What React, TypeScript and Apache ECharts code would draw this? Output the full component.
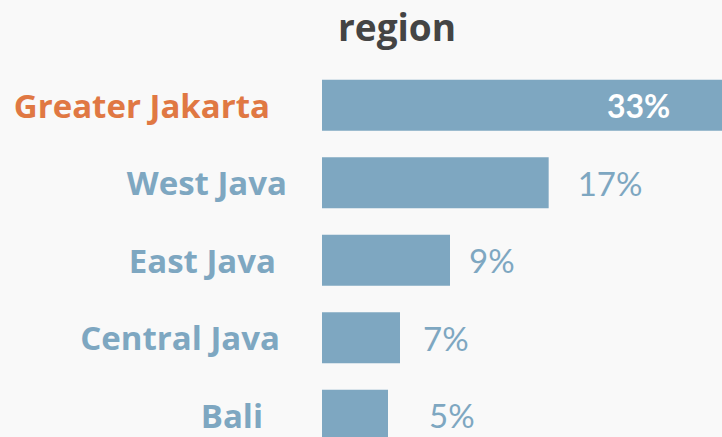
import React, { useEffect, useRef } from "react";
import * as echarts from "echarts";

const categories = ["Greater Jakarta", "West Java", "East Java", "Central Java", "Bali"];
const values = [33, 17, 9.6, 5.85, 4.95];
const valueLabels = ["33%", "17%", "9%", "7%", "5%"];
const highlighted = "Greater Jakarta";

const BLUE = "#7ea7c1";
const ORANGE = "#e07843";
const FONT = "'Open Sans', Lato, sans-serif";
const VFONT = "Lato, sans-serif";

// per-label nudges (visual only)
const catPad = [17, 0, 11, 7, 24];
const valDist = [285, 29, 19, 23, 41];

export default function App() {
  const ref = useRef<HTMLDivElement>(null);
  useEffect(() => {
    if (!ref.current) return;
    const chart = echarts.init(ref.current, null, { renderer: "svg" });
    const rich: Record<string, any> = {};
    categories.forEach((c, i) => {
      rich["r" + i] = {
        color: c === highlighted ? ORANGE : BLUE,
        fontFamily: FONT,
        fontWeight: "bold",
        fontSize: 33,
        padding: [0, catPad[i], 0, 0],
      };
    });
    chart.setOption({
      animation: false,
      backgroundColor: "#f9f9f9",
      title: {
        text: "region",
        left: 338,
        top: 6,
        padding: 0,
        textStyle: { fontFamily: FONT, fontWeight: "bold", fontSize: 37, color: "#444444", lineHeight: 40 },
      },
      grid: { left: 322, right: 0, top: 66.5, bottom: 6, containLabel: false },
      xAxis: {
        type: "value",
        min: 0,
        max: 30,
        show: false,
      },
      yAxis: {
        type: "category",
        data: categories,
        inverse: true,
        axisLine: { show: false },
        axisTick: { show: false },
        splitLine: { show: false },
        axisLabel: {
          margin: 35,
          formatter: (v: string) => {
            const i = categories.indexOf(v);
            return "{r" + i + "|" + v + "}";
          },
          rich,
        },
      },
      series: [
        {
          type: "bar",
          barWidth: 51,
          itemStyle: { color: BLUE },
          data: values.map((v, i) => ({
            value: v,
            label: {
              show: true,
              position: i === 0 ? "insideLeft" : "right",
              distance: valDist[i],
              formatter: valueLabels[i],
              fontFamily: VFONT,
              fontSize: i === 0 ? 32 : 33,
              fontWeight: i === 0 ? "bold" : "normal",
              color: i === 0 ? "#ffffff" : BLUE,
            },
          })),
        },
      ],
    });
    return () => chart.dispose();
  }, []);
  return (
    <div style={{ width: 722, height: 437, overflow: "hidden", position: "fixed", left: 0, top: 0 }}>
      <div ref={ref} style={{ width: 722, height: 460 }} />
    </div>
  );
}
